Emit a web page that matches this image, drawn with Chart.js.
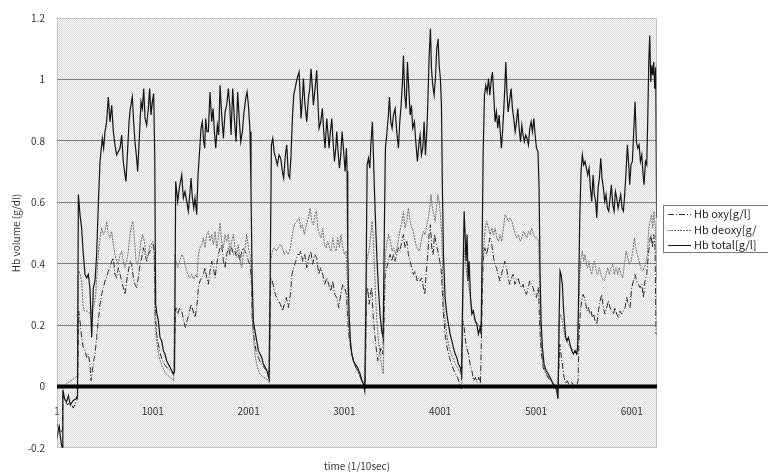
<!DOCTYPE html>
<html>
<head>
<meta charset="utf-8">
<script src="https://cdn.jsdelivr.net/npm/chart.js@4/dist/chart.umd.min.js"></script>
<style>
html,body{margin:0;padding:0;background:#fff;}
#wrap{width:768px;height:476px;position:relative;}
</style>
</head>
<body>
<div id="wrap"><canvas id="c" width="768" height="476"></canvas></div>
<script>
// ---- data (time index in samples of 1/10 s) ----
const seriesNames = ["Hb oxy[g/l]", "Hb deoxy[g/", "Hb total[g/l]"];
const xTickLabels = [1, 1001, 2001, 3001, 4001, 5001, 6001];
const yTicks = [-0.2, 0, 0.2, 0.4, 0.6, 0.8, 1, 1.2];

const totalT = [1,15,25,35,48,58,62,80,100,120,140,170,200,215,224,241,258,276,293,311,328,345,363,380,398,415,432,450,474,488,502,519,537,554,572,589,606,624,641,659,676,693,711,721,739,753,766,787,801,815,829,843,860,878,892,906,920,937,954,968,982,996,1010,1021,1031,1045,1059,1076,1094,1111,1128,1146,1163,1181,1198,1215,1228,1240,1261,1278,1303,1320,1337,1355,1372,1390,1400,1414,1428,1442,1459,1473,1487,1504,1518,1532,1543,1553,1567,1581,1598,1616,1630,1644,1658,1675,1689,1703,1720,1738,1755,1772,1790,1804,1818,1835,1852,1870,1887,1905,1919,1936,1953,1971,1985,1999,2016,2026,2037,2051,2068,2086,2103,2120,2138,2155,2173,2193,2214,2225,2239,2253,2267,2284,2301,2319,2336,2354,2367,2385,2399,2416,2430,2444,2458,2472,2486,2507,2528,2549,2563,2573,2590,2608,2625,2639,2653,2667,2677,2695,2712,2726,2737,2754,2771,2785,2799,2817,2831,2841,2855,2869,2883,2897,2911,2921,2935,2949,2963,2977,2991,3008,3022,3029,3036,3050,3064,3078,3095,3112,3137,3165,3182,3199,3213,3227,3238,3252,3266,3279,3293,3304,3314,3328,3342,3356,3373,3391,3405,3419,3429,3443,3460,3471,3485,3499,3513,3530,3547,3565,3579,3593,3607,3617,3631,3645,3659,3673,3687,3701,3714,3732,3746,3763,3781,3791,3805,3819,3833,3847,3861,3871,3885,3899,3910,3923,3937,3951,3965,3979,3990,4003,4014,4024,4035,4052,4070,4087,4104,4122,4139,4157,4174,4191,4209,4223,4237,4251,4261,4271,4282,4292,4303,4317,4331,4348,4365,4383,4400,4418,4428,4438,4449,4463,4477,4491,4505,4519,4532,4546,4560,4574,4588,4602,4616,4630,4640,4654,4665,4675,4686,4696,4710,4724,4741,4755,4769,4783,4797,4811,4825,4839,4853,4866,4880,4894,4908,4922,4936,4950,4964,4978,4992,5006,5022,5033,5043,5054,5068,5085,5106,5130,5155,5179,5200,5217,5231,5242,5252,5262,5276,5287,5297,5311,5325,5339,5356,5374,5391,5409,5426,5436,5447,5457,5471,5485,5499,5513,5527,5541,5555,5569,5583,5597,5610,5624,5635,5649,5663,5677,5690,5704,5718,5732,5746,5760,5774,5788,5802,5816,5830,5844,5858,5871,5885,5899,5913,5927,5941,5955,5969,5979,5993,6007,6021,6035,6049,6063,6077,6091,6105,6119,6129,6143,6157,6167,6178,6188,6199,6209,6219,6230,6240,6251,6260];
const totalV = [-0.17,-0.14,-0.13,-0.16,-0.19,-0.205,-0.01,-0.04,-0.05,-0.03,-0.06,-0.045,-0.04,-0.03,0.625,0.56,0.516,0.43,0.365,0.354,0.365,0.32,0.16,0.32,0.344,0.43,0.59,0.733,0.808,0.776,0.83,0.862,0.943,0.862,0.916,0.83,0.787,0.754,0.765,0.776,0.819,0.733,0.689,0.668,0.776,0.862,0.905,0.943,0.862,0.797,0.754,0.70,0.808,0.927,0.905,0.97,0.873,0.851,0.905,0.97,0.884,0.927,0.954,0.754,0.268,0.236,0.214,0.16,0.149,0.117,0.106,0.084,0.073,0.063,0.052,0.041,0.05,0.668,0.603,0.646,0.689,0.614,0.635,0.603,0.571,0.635,0.679,0.614,0.581,0.614,0.56,0.689,0.754,0.841,0.862,0.797,0.776,0.873,0.83,0.83,0.959,0.862,0.905,0.83,0.776,0.851,0.819,0.981,0.884,0.808,0.894,0.916,0.97,0.916,0.819,0.97,0.873,0.797,0.959,0.862,0.797,0.83,0.894,0.938,0.959,0.916,0.83,0.646,0.365,0.214,0.18,0.149,0.117,0.106,0.095,0.073,0.063,0.052,0.025,0.32,0.787,0.808,0.765,0.743,0.722,0.754,0.743,0.70,0.679,0.754,0.787,0.689,0.679,0.754,0.873,0.949,0.97,1.003,1.024,0.873,0.938,1.003,0.916,0.862,0.938,0.97,1.035,0.97,0.916,0.97,1.03,0.916,0.841,0.862,0.905,0.83,0.776,0.873,0.819,0.776,0.83,0.873,0.797,0.733,0.776,0.83,0.765,0.711,0.754,0.83,0.776,0.70,0.776,0.70,0.43,0.236,0.149,0.106,0.084,0.073,0.063,0.041,0.019,0.009,-0.013,0.322,0.722,0.743,0.711,0.797,0.862,0.754,0.646,0.516,0.408,0.322,0.236,0.18,0.16,0.538,0.776,0.819,0.884,0.943,0.862,0.841,0.884,0.905,0.83,0.776,0.862,0.916,0.992,1.078,0.949,0.905,1.057,0.97,0.884,0.916,0.841,0.862,0.797,0.733,0.797,0.819,0.754,0.776,0.862,0.754,0.83,0.916,1.068,1.165,1.035,0.981,0.949,1.003,1.1,1.132,1.046,1.003,0.916,0.646,0.43,0.29,0.236,0.203,0.171,0.149,0.127,0.106,0.095,0.073,0.063,0.041,0.322,0.571,0.495,0.408,0.495,0.344,0.408,0.29,0.236,0.246,0.214,0.203,0.171,0.192,0.171,0.43,0.754,0.949,0.981,0.959,1.003,0.949,0.992,1.024,0.949,0.862,0.894,0.841,0.884,0.819,0.776,0.841,0.905,0.97,1.057,0.97,0.894,0.927,0.97,0.905,0.873,0.83,0.862,0.905,0.841,0.797,0.851,0.819,0.797,0.819,0.808,0.787,0.841,0.862,0.83,0.873,0.819,0.776,0.765,0.646,0.376,0.214,0.127,0.073,0.052,0.041,0.025,0.009,-0.002,-0.013,-0.04,0.214,0.376,0.365,0.333,0.257,0.214,0.16,0.149,0.16,0.138,0.117,0.106,0.117,0.106,0.127,0.322,0.538,0.70,0.754,0.722,0.733,0.711,0.689,0.711,0.646,0.603,0.689,0.625,0.603,0.549,0.646,0.679,0.743,0.679,0.646,0.603,0.625,0.581,0.571,0.614,0.657,0.592,0.571,0.635,0.614,0.581,0.603,0.625,0.581,0.571,0.625,0.70,0.787,0.722,0.657,0.722,0.733,0.83,0.927,0.797,0.776,0.787,0.733,0.754,0.689,0.657,0.733,0.722,0.862,1.057,1.143,0.992,1.046,1.014,1.057,0.97,1.04,0.55];

const deoxyT = [1,60,215,222,231,244,258,272,286,311,335,356,373,391,405,418,432,450,467,485,502,519,537,554,572,589,606,624,641,659,676,693,711,728,746,763,780,794,808,826,843,860,878,895,913,930,947,965,982,1000,1014,1024,1038,1059,1080,1101,1128,1163,1198,1219,1233,1243,1261,1282,1303,1323,1344,1365,1386,1407,1428,1449,1463,1477,1494,1511,1529,1546,1564,1581,1598,1616,1633,1651,1668,1685,1703,1720,1738,1755,1772,1790,1807,1825,1842,1859,1877,1894,1912,1929,1946,1964,1981,1999,2016,2030,2040,2054,2072,2093,2120,2155,2190,2218,2232,2249,2270,2291,2312,2333,2354,2375,2395,2416,2437,2458,2479,2503,2528,2545,2563,2583,2604,2625,2643,2660,2677,2695,2709,2723,2740,2757,2775,2792,2810,2827,2844,2862,2879,2897,2914,2931,2949,2966,2984,3001,3018,3029,3039,3053,3071,3095,3123,3151,3179,3203,3220,3234,3248,3262,3276,3290,3304,3318,3335,3356,3377,3398,3408,3419,3429,3446,3464,3481,3499,3516,3533,3551,3568,3586,3603,3617,3634,3652,3669,3687,3704,3721,3739,3756,3781,3791,3809,3826,3843,3861,3878,3892,3906,3920,3934,3948,3962,3976,3990,4003,4017,4028,4042,4059,4080,4104,4132,4160,4188,4216,4230,4240,4251,4265,4278,4296,4313,4331,4351,4372,4393,4414,4432,4442,4456,4470,4487,4505,4522,4539,4557,4574,4592,4609,4626,4644,4661,4679,4696,4713,4731,4748,4766,4783,4800,4818,4835,4853,4870,4887,4905,4922,4940,4957,4974,4992,5009,5029,5040,5054,5071,5095,5123,5158,5186,5210,5231,5245,5255,5269,5287,5304,5325,5349,5374,5402,5429,5443,5457,5471,5485,5499,5513,5527,5541,5555,5569,5583,5597,5610,5628,5645,5663,5680,5697,5715,5732,5750,5767,5784,5802,5819,5837,5854,5871,5889,5906,5924,5941,5958,5976,5993,6011,6028,6042,6059,6077,6094,6112,6129,6146,6164,6178,6192,6206,6219,6233,6247,6260];
const deoxyV = [0.0,0.0,0.035,0.35,0.376,0.365,0.344,0.268,0.246,0.246,0.24,0.236,0.257,0.268,0.30,0.365,0.43,0.484,0.516,0.495,0.505,0.538,0.495,0.484,0.505,0.462,0.43,0.408,0.398,0.43,0.441,0.408,0.387,0.408,0.441,0.495,0.527,0.538,0.484,0.408,0.398,0.43,0.473,0.495,0.473,0.43,0.419,0.452,0.462,0.473,0.452,0.214,0.16,0.106,0.084,0.063,0.046,0.036,0.025,0.019,0.43,0.408,0.387,0.408,0.43,0.419,0.387,0.365,0.354,0.365,0.35,0.365,0.354,0.43,0.452,0.462,0.484,0.452,0.495,0.505,0.473,0.495,0.462,0.505,0.452,0.484,0.533,0.473,0.452,0.495,0.473,0.495,0.441,0.473,0.495,0.452,0.43,0.462,0.408,0.387,0.43,0.452,0.495,0.452,0.43,0.365,0.214,0.149,0.095,0.063,0.041,0.03,0.025,0.014,0.408,0.441,0.452,0.441,0.452,0.462,0.452,0.43,0.441,0.43,0.452,0.495,0.527,0.538,0.549,0.516,0.527,0.495,0.527,0.549,0.581,0.538,0.527,0.56,0.571,0.516,0.495,0.484,0.516,0.462,0.452,0.473,0.452,0.441,0.484,0.452,0.441,0.484,0.452,0.495,0.452,0.43,0.441,0.365,0.246,0.171,0.117,0.084,0.063,0.041,0.025,0.014,0.009,0.408,0.43,0.452,0.495,0.538,0.473,0.365,0.236,0.149,0.095,0.052,0.041,0.322,0.43,0.473,0.495,0.473,0.441,0.452,0.43,0.452,0.484,0.516,0.538,0.571,0.516,0.538,0.581,0.538,0.516,0.505,0.473,0.452,0.441,0.452,0.484,0.505,0.495,0.527,0.549,0.581,0.625,0.581,0.56,0.538,0.581,0.625,0.603,0.56,0.495,0.344,0.246,0.192,0.149,0.117,0.095,0.073,0.057,0.041,0.03,0.322,0.452,0.408,0.365,0.333,0.30,0.257,0.236,0.214,0.203,0.192,0.214,0.376,0.452,0.516,0.538,0.516,0.495,0.516,0.495,0.516,0.484,0.473,0.495,0.473,0.516,0.56,0.549,0.538,0.549,0.538,0.516,0.495,0.484,0.495,0.473,0.484,0.505,0.495,0.484,0.505,0.495,0.516,0.495,0.484,0.484,0.473,0.30,0.16,0.084,0.052,0.036,0.019,0.009,-0.002,-0.013,0.214,0.236,0.225,0.192,0.16,0.144,0.133,0.122,0.117,0.111,0.214,0.365,0.419,0.441,0.408,0.43,0.398,0.387,0.408,0.376,0.365,0.398,0.408,0.376,0.365,0.387,0.365,0.35,0.344,0.365,0.387,0.365,0.387,0.398,0.365,0.387,0.365,0.387,0.365,0.354,0.398,0.441,0.419,0.398,0.408,0.441,0.484,0.452,0.43,0.408,0.387,0.376,0.387,0.398,0.43,0.516,0.538,0.56,0.516,0.571,0.516,0.35];

const oxyT = [1,20,40,58,62,80,110,140,170,200,215,227,241,258,276,293,311,328,345,356,370,384,398,415,432,450,467,485,502,519,537,554,572,589,606,624,641,659,676,693,711,728,746,763,780,798,815,833,850,867,885,902,920,937,954,972,989,1007,1017,1027,1041,1059,1080,1104,1132,1163,1198,1222,1236,1243,1261,1282,1303,1323,1341,1358,1379,1400,1421,1442,1463,1477,1494,1511,1529,1546,1564,1581,1598,1616,1633,1651,1668,1685,1703,1720,1738,1755,1772,1790,1807,1825,1842,1859,1877,1894,1912,1929,1946,1964,1981,1999,2016,2030,2040,2058,2079,2103,2131,2159,2190,2218,2232,2249,2270,2291,2312,2333,2354,2375,2395,2416,2437,2454,2472,2493,2514,2531,2545,2566,2587,2608,2629,2650,2670,2691,2712,2733,2754,2775,2796,2817,2837,2858,2879,2900,2921,2942,2963,2984,3004,3022,3036,3053,3078,3105,3137,3168,3196,3217,3231,3245,3259,3272,3286,3300,3314,3332,3349,3366,3384,3401,3415,3426,3443,3460,3478,3495,3513,3530,3547,3565,3582,3600,3617,3634,3652,3669,3687,3704,3721,3739,3760,3781,3791,3809,3826,3840,3854,3871,3885,3899,3913,3927,3941,3955,3969,3983,3996,4010,4021,4035,4052,4073,4097,4125,4153,4181,4205,4223,4237,4251,4265,4278,4296,4313,4331,4351,4369,4386,4404,4421,4435,4449,4466,4484,4501,4519,4536,4553,4571,4588,4606,4623,4640,4658,4675,4693,4710,4727,4745,4762,4780,4797,4814,4832,4849,4866,4884,4901,4919,4936,4954,4971,4988,5006,5023,5029,5040,5054,5075,5102,5137,5172,5200,5224,5238,5249,5262,5276,5294,5311,5329,5349,5374,5398,5423,5440,5450,5464,5478,5492,5506,5520,5534,5548,5562,5576,5590,5603,5617,5635,5652,5670,5687,5704,5722,5739,5757,5774,5791,5809,5826,5844,5861,5878,5896,5913,5931,5948,5965,5983,6000,6018,6035,6052,6070,6087,6105,6122,6139,6157,6174,6188,6202,6216,6230,6244,6254,6260];
const oxyV = [-0.12,-0.14,-0.15,-0.14,-0.03,-0.04,-0.06,-0.05,-0.07,-0.05,-0.04,0.246,0.214,0.16,0.127,0.117,0.095,0.106,0.073,0.019,0.052,0.084,0.106,0.16,0.214,0.268,0.30,0.322,0.344,0.354,0.376,0.387,0.408,0.419,0.365,0.354,0.387,0.365,0.344,0.322,0.30,0.344,0.376,0.408,0.398,0.354,0.333,0.322,0.354,0.398,0.419,0.452,0.43,0.408,0.43,0.441,0.452,0.462,0.43,0.236,0.171,0.138,0.106,0.084,0.068,0.057,0.046,0.041,0.246,0.257,0.236,0.257,0.246,0.214,0.192,0.214,0.236,0.268,0.246,0.225,0.268,0.322,0.344,0.354,0.365,0.387,0.354,0.333,0.376,0.408,0.387,0.354,0.398,0.43,0.452,0.462,0.408,0.387,0.43,0.452,0.43,0.452,0.43,0.441,0.419,0.43,0.408,0.441,0.452,0.441,0.43,0.408,0.398,0.344,0.214,0.16,0.117,0.095,0.073,0.063,0.052,0.041,0.354,0.344,0.311,0.29,0.279,0.268,0.246,0.268,0.29,0.257,0.30,0.365,0.387,0.408,0.43,0.43,0.441,0.408,0.43,0.387,0.419,0.441,0.398,0.43,0.419,0.365,0.387,0.365,0.333,0.354,0.333,0.311,0.344,0.30,0.29,0.257,0.30,0.333,0.322,0.30,0.214,0.149,0.106,0.073,0.052,0.03,0.009,-0.008,0.30,0.322,0.268,0.30,0.322,0.236,0.182,0.127,0.084,0.106,0.127,0.106,0.214,0.365,0.387,0.408,0.43,0.408,0.43,0.408,0.43,0.452,0.441,0.473,0.495,0.452,0.473,0.43,0.408,0.387,0.365,0.376,0.344,0.354,0.344,0.354,0.322,0.30,0.365,0.43,0.495,0.527,0.452,0.43,0.495,0.473,0.452,0.43,0.408,0.387,0.322,0.236,0.171,0.127,0.095,0.068,0.046,0.03,0.009,-0.008,0.214,0.192,0.149,0.127,0.106,0.073,0.052,0.019,0.03,0.014,0.03,0.009,0.214,0.408,0.452,0.43,0.452,0.484,0.473,0.43,0.398,0.387,0.365,0.344,0.365,0.387,0.408,0.387,0.354,0.333,0.354,0.365,0.333,0.344,0.354,0.333,0.322,0.333,0.311,0.30,0.322,0.344,0.333,0.322,0.30,0.29,0.322,0.30,0.192,0.117,0.063,0.041,0.025,0.014,-0.002,-0.018,0.041,0.138,0.106,0.073,0.03,0.009,0.019,0.003,0.014,0.003,-0.002,0.019,0.16,0.246,0.279,0.30,0.29,0.268,0.246,0.257,0.236,0.246,0.225,0.236,0.214,0.203,0.246,0.279,0.30,0.257,0.236,0.257,0.279,0.257,0.246,0.236,0.257,0.236,0.225,0.246,0.236,0.246,0.257,0.29,0.268,0.257,0.322,0.344,0.365,0.344,0.333,0.322,0.333,0.29,0.344,0.365,0.43,0.473,0.495,0.452,0.495,0.452,0.171,0.17];

function pts(ts, vs){ return ts.map((t,i)=>({x:t, y:vs[i]})); }

const FONT = "'Noto Sans CJK JP','Noto Sans',sans-serif";

// checker pattern for the plot-area background
function makePattern(ctx){
  const p = document.createElement('canvas');
  p.width = 2; p.height = 2;
  const g = p.getContext('2d');
  g.fillStyle = '#f8f8f8'; g.fillRect(0,0,2,2);
  g.fillStyle = '#dcdcdc'; g.fillRect(0,0,1,1); g.fillRect(1,1,1,1);
  return ctx.createPattern(p,'repeat');
}

const plotDecor = {
  id: 'plotDecor',
  beforeDraw(chart){
    const {ctx, chartArea:a} = chart;
    ctx.save();
    ctx.fillStyle = makePattern(ctx);
    ctx.fillRect(a.left, a.top, a.right-a.left, a.bottom-a.top);
    ctx.restore();
  },
  afterDatasetsDraw(chart){
    const {ctx, chartArea:a} = chart;
    ctx.save();
    ctx.strokeStyle = '#9a9a9a';
    ctx.lineWidth = 1;
    ctx.setLineDash([1,1]);
    ctx.strokeRect(Math.round(a.left)+0.5, Math.round(a.top)+0.5, Math.round(a.right-a.left)-1, Math.round(a.bottom-a.top)-1);
    // thick zero line (category axis crossing)
    const y0 = chart.scales.y.getPixelForValue(0);
    ctx.setLineDash([]);
    ctx.strokeStyle = '#000';
    ctx.lineWidth = 4;
    ctx.beginPath();
    ctx.moveTo(a.left, y0); ctx.lineTo(a.right, y0);
    ctx.stroke();
    ctx.restore();
  },
  afterDraw(chart){
    const ctx = chart.ctx;
    const ds = chart.data.datasets;
    // legend box
    const bx = 663.5, by = 205.5, bw = 120, bh = 47;
    ctx.save();
    ctx.fillStyle = '#fff';
    ctx.fillRect(bx, by, bw, bh);
    ctx.strokeStyle = '#7a7a7a';
    ctx.lineWidth = 1;
    ctx.strokeRect(bx, by, bw, bh);
    const rows = [
      {name: seriesNames[0], ds: ds[2], y: 214},
      {name: seriesNames[1], ds: ds[1], y: 229.5},
      {name: seriesNames[2], ds: ds[0], y: 245}
    ];
    ctx.font = '11px ' + FONT;
    ctx.textBaseline = 'middle';
    ctx.textAlign = 'left';
    rows.forEach(r => {
      ctx.strokeStyle = r.ds.borderColor;
      ctx.lineWidth = 1;
      ctx.setLineDash(r.ds.borderDash || []);
      ctx.beginPath();
      ctx.moveTo(668, Math.round(r.y) + 0.5); ctx.lineTo(691, Math.round(r.y) + 0.5);
      ctx.stroke();
      ctx.setLineDash([]);
      ctx.fillStyle = '#222';
      ctx.fillText(r.name, 694, r.y);
    });
    ctx.restore();
  }
};

new Chart(document.getElementById('c'), {
  type: 'line',
  data: {
    datasets: [
      {label: seriesNames[2], data: pts(totalT, totalV), borderColor: '#141414', borderWidth: 1.2, pointRadius: 0, tension: 0, fill: false},
      {label: seriesNames[1], data: pts(deoxyT, deoxyV), borderColor: '#6e6e6e', borderWidth: 1, borderDash: [2,1], pointRadius: 0, tension: 0, fill: false},
      {label: seriesNames[0], data: pts(oxyT, oxyV), borderColor: '#2a2a2a', borderWidth: 1, borderDash: [6,2,1,2], pointRadius: 0, tension: 0, fill: false}
    ]
  },
  options: {
    responsive: false,
    animation: false,
    devicePixelRatio: 1,
    layout: {padding: {top: 15, right: 111, bottom: 0, left: 0}},
    plugins: {legend: {display: false}, tooltip: {enabled: false}},
    scales: {
      x: {
        type: 'linear',
        min: 1, max: 6264,
        position: {y: 0},
        grid: {display: false},
        border: {display: false},
        ticks: {
          autoSkip: false, maxRotation: 0, padding: 11,
          font: {size: 10, family: FONT}, color: '#333',
          callback: v => String(v)
        },
        afterBuildTicks: s => { s.ticks = xTickLabels.map(v => ({value: v})); },
        afterFit: s => { s.height = 0; }
      },
      xt: {
        type: 'linear', axis: 'x', position: 'bottom',
        grid: {display: false}, border: {display: false},
        ticks: {display: false},
        title: {display: true, text: 'time (1/10sec)', color: '#333', font: {size: 10, family: FONT}, padding: {top: 4, bottom: 4}},
        afterFit: s => { s.height = 28; }
      },
      y: {
        type: 'linear',
        min: -0.2, max: 1.2,
        grid: {
          drawTicks: false,
          color: c => (c.tick && (Math.abs(c.tick.value - 1.2) < 1e-6 || Math.abs(c.tick.value + 0.2) < 1e-6)) ? 'rgba(0,0,0,0)' : '#7c7c7c',
          lineWidth: 1
        },
        border: {display: false},
        afterBuildTicks: s => { s.ticks = yTicks.map(v => ({value: v})); },
        ticks: {
          padding: 12, font: {size: 10, family: FONT}, color: '#333',
          callback: v => String(parseFloat(Number(v).toFixed(1)))
        },
        title: {display: true, text: 'Hb volume (g/dl)', color: '#333', font: {size: 10, family: FONT}, padding: {top: 10, bottom: 0}},
        afterFit: s => { s.width = 57; }
      }
    }
  },
  plugins: [plotDecor]
});
</script>
</body>
</html>
